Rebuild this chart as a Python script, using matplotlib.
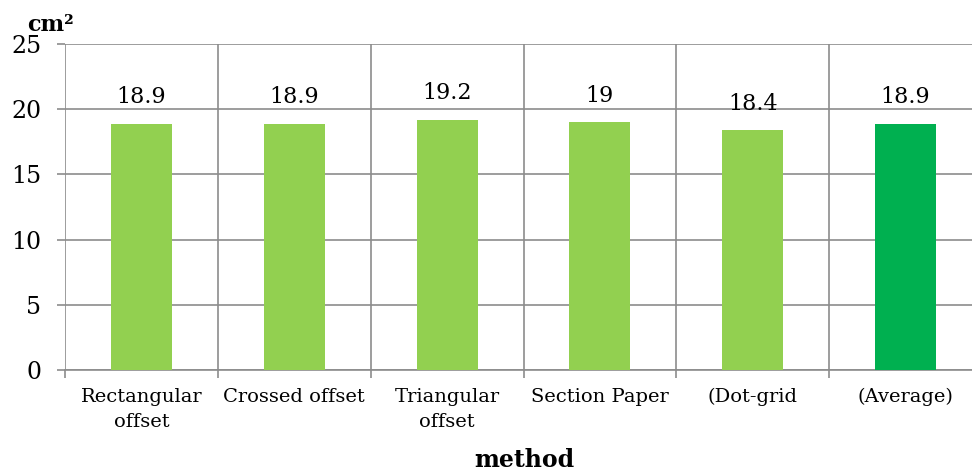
import matplotlib
matplotlib.use("Agg")
import matplotlib.pyplot as plt

methods = ["Rectangular\noffset", "Crossed offset", "Triangular\noffset",
           "Section Paper", "(Dot-grid", "(Average)"]
areas = [18.9, 18.9, 19.2, 19.0, 18.4, 18.9]
value_labels = ["18.9", "18.9", "19.2", "19", "18.4", "18.9"]
bar_colors = ["#92D050"] * 5 + ["#00B050"]
yticks = [0, 5, 10, 15, 20, 25]

plt.rcParams["font.family"] = ["DejaVu Serif"]
grid_col = "#8c8c8c"

fig = plt.figure(figsize=(9.72, 4.71), dpi=100)
ax = fig.add_axes([65 / 972, 1 - 370 / 471, 917 / 972, 326 / 471])

x = range(len(methods))
bars = ax.bar(x, areas, width=0.4, color=bar_colors, zorder=3)

for bar, txt in zip(bars, value_labels):
    ax.annotate(txt, (bar.get_x() + bar.get_width() / 2, bar.get_height()),
                xytext=(0, 11), textcoords="offset points",
                ha="center", va="bottom", fontsize=16)

ax.set_xlim(-0.5, len(methods) - 0.5)
ax.set_ylim(0, 25)
ax.set_yticks(yticks)
ax.set_yticklabels([str(v) for v in yticks], fontsize=17)

# category separators as minor ticks/grid
ax.set_xticks([i - 0.5 for i in range(len(methods) + 1)], minor=True)
ax.set_xticks(list(x))
ax.set_xticklabels(methods, fontsize=14, linespacing=1.5, va="top")
ax.tick_params(axis="x", which="major", length=0, pad=13)
ax.tick_params(axis="x", which="minor", length=6, color=grid_col, width=1.2)
ax.tick_params(axis="y", length=6, color=grid_col, width=1.2, pad=11)

ax.grid(axis="y", color=grid_col, linewidth=1.2, zorder=0)
ax.grid(axis="x", which="minor", color=grid_col, linewidth=1.2, zorder=0)
for side in ["top", "right", "left"]:
    ax.spines[side].set_visible(False)
ax.spines["bottom"].set_color(grid_col)
ax.spines["bottom"].set_linewidth(1.2)

fig.text(27 / 972, 1 - 25 / 471, "cm²", fontsize=16, fontweight="bold",
         ha="left", va="center")
fig.text(524 / 972, 1 - 460 / 471, "method", fontsize=17, fontweight="bold",
         ha="center", va="center")

fig.savefig("out.png", dpi=100)
